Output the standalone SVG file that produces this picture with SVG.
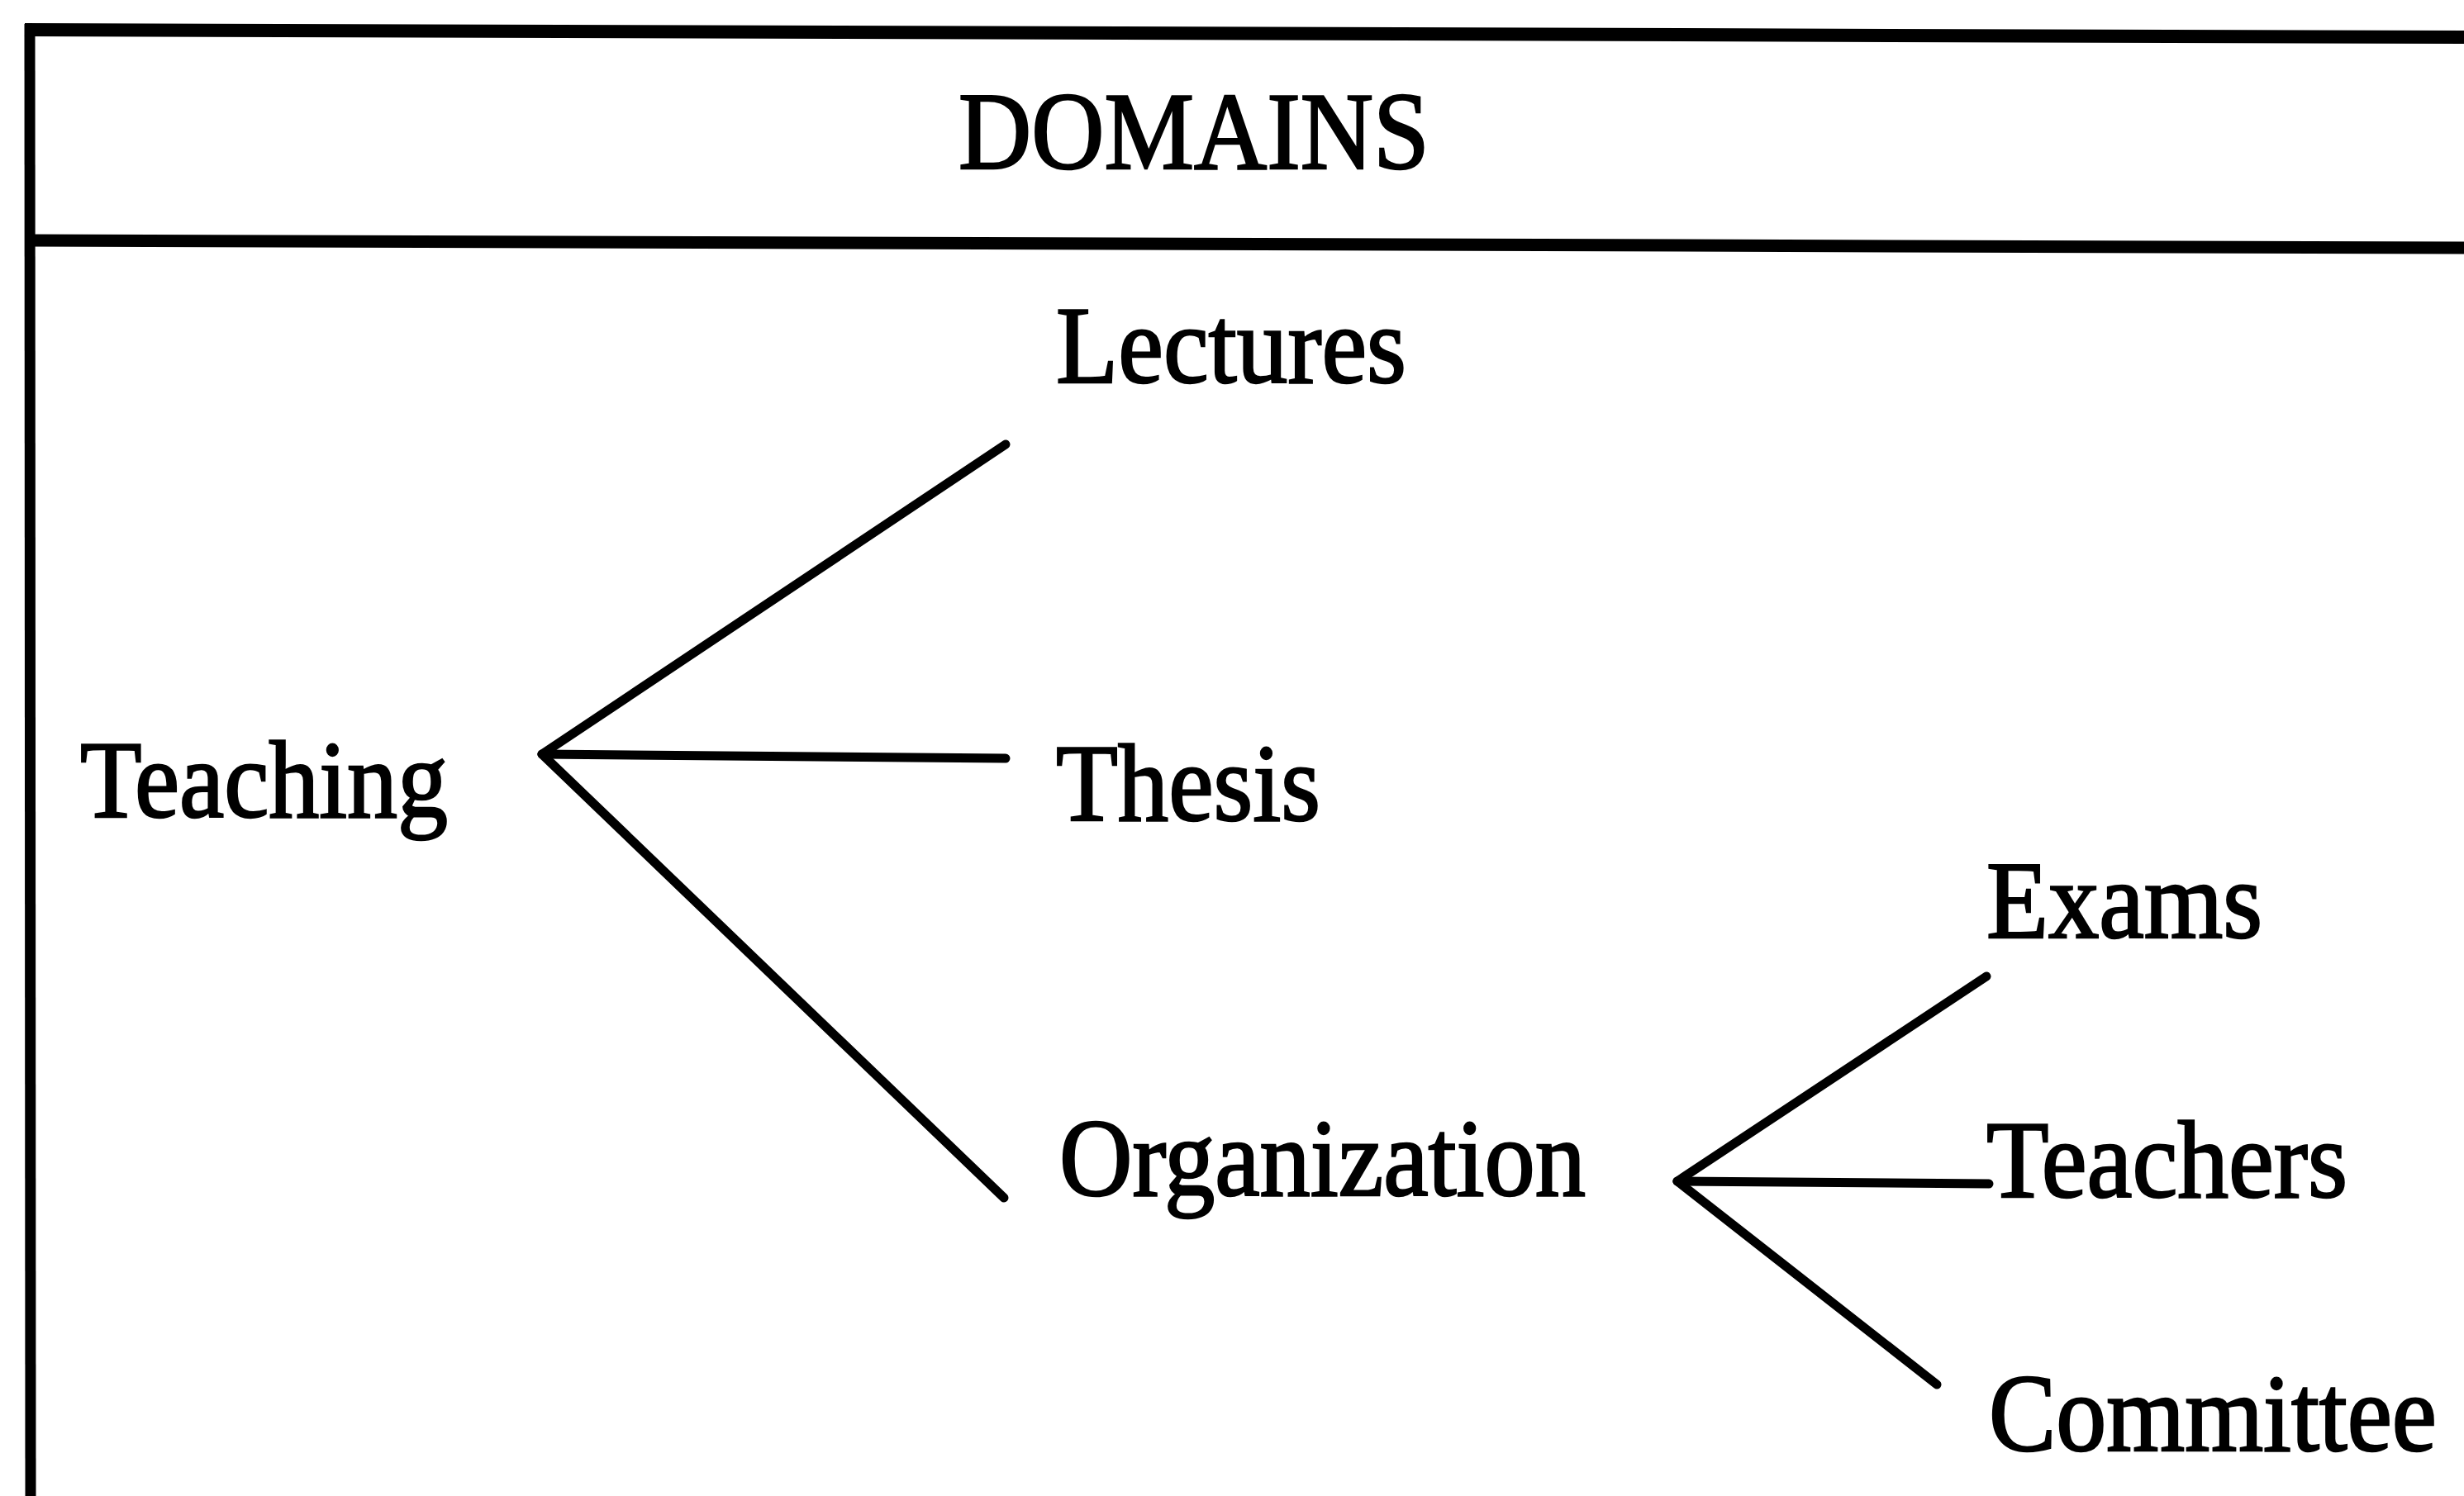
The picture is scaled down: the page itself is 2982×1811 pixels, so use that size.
<svg xmlns="http://www.w3.org/2000/svg" width="2982" height="1811" viewBox="0 0 2982 1811">
  <style>
    .frame { stroke: #000; stroke-linecap: butt; fill: none; }
    .label { font-family: "Liberation Serif", "Times New Roman", serif; font-size: 133px; fill: #000; stroke: #000; stroke-width: 2.5px; }
    .branch { stroke: #000; stroke-width: 11; stroke-linecap: round; fill: none; }
  </style>
  <rect x="0" y="0" width="2982" height="1811" fill="#fff"/>

  <!-- table frame: left edge, top edge and header separator -->
  <g id="frame">
    <line class="frame" x1="36" y1="29" x2="37" y2="1811" stroke-width="13"/>
    <line class="frame" x1="30" y1="36" x2="2982" y2="45" stroke-width="16"/>
    <line class="frame" x1="30" y1="291" x2="2982" y2="300" stroke-width="15"/>
  </g>

  <g id="header">
    <text class="label" x="1160" y="204" textLength="570" lengthAdjust="spacingAndGlyphs">DOMAINS</text>
  </g>

  <g id="teaching">
    <text class="label" x="97" y="989" textLength="445" lengthAdjust="spacingAndGlyphs">Teaching</text>
  </g>
  <g id="lectures">
    <text class="label" x="1278" y="463" textLength="424" lengthAdjust="spacingAndGlyphs">Lectures</text>
  </g>
  <g id="thesis">
    <text class="label" x="1278" y="993" textLength="320" lengthAdjust="spacingAndGlyphs">Thesis</text>
  </g>
  <g id="organization">
    <text class="label" x="1282" y="1447" textLength="637" lengthAdjust="spacingAndGlyphs">Organization</text>
  </g>
  <g id="exams">
    <text class="label" x="2404" y="1135" textLength="334" lengthAdjust="spacingAndGlyphs">Exams</text>
  </g>
  <g id="teachers">
    <text class="label" x="2404" y="1449" textLength="437" lengthAdjust="spacingAndGlyphs">Teachers</text>
  </g>
  <g id="committee">
    <text class="label" x="2407" y="1756" textLength="542" lengthAdjust="spacingAndGlyphs">Committee</text>
  </g>

  <!-- branches of the tree -->
  <g id="connectors">
    <line class="branch" x1="656" y1="913" x2="1217" y2="538"/>
    <line class="branch" x1="656" y1="913" x2="1217" y2="918"/>
    <line class="branch" x1="656" y1="913" x2="1215" y2="1450"/>
    <line class="branch" x1="2030" y1="1430" x2="2404" y2="1182"/>
    <line class="branch" x1="2030" y1="1430" x2="2407" y2="1433"/>
    <line class="branch" x1="2030" y1="1430" x2="2344" y2="1676"/>
  </g>
</svg>
